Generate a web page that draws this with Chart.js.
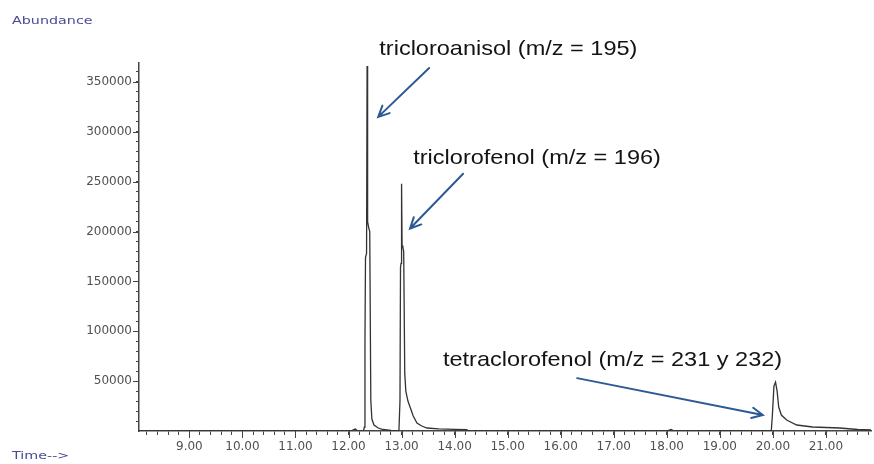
<!DOCTYPE html>
<html>
<head>
<meta charset="utf-8">
<title>Cromatograma</title>
<script src="https://cdn.jsdelivr.net/npm/chart.js@4.4.1/dist/chart.umd.min.js"></script>
<style>
    html, body { margin: 0; padding: 0; background: #fff; }
    #wrap { width: 874px; height: 464px; position: relative; }
</style>
</head>
<body>
<div id="wrap"><canvas id="chromChart"></canvas></div>
<script>
// Retention time (min) and abundance of the trace
const times = [8.05, 12.05, 12.10, 12.13, 12.17, 12.28, 12.30, 12.31, 12.32, 12.34, 12.35, 12.36, 12.38, 12.40,
    12.42, 12.44, 12.48, 12.56, 12.65, 12.80, 12.95, 12.97, 12.98, 12.99, 13.00, 13.01, 13.025, 13.04, 13.06,
    13.08, 13.12, 13.16, 13.22, 13.29, 13.38, 13.48, 13.70, 14.00, 14.23, 14.26, 18.00, 18.08, 18.14, 19.97,
    19.99, 20.02, 20.05, 20.08, 20.11, 20.16, 20.26, 20.45, 20.75, 21.26, 21.60, 21.85];
const abundance = [0, 0, 1500, 2000, 0, 0, 4000, 90000, 174000, 178000, 366000, 210000, 204000, 200000,
    31000, 12000, 6000, 3000, 1500, 500, 0, 30000, 164000, 168000, 248000, 186000, 184000, 180000, 58000,
    40000, 30000, 24000, 15000, 8000, 5000, 3000, 2200, 1700, 1300, 0, 0, 1500, 0, 0,
    15000, 45000, 49000, 40000, 24000, 16000, 11000, 6000, 4000, 3000, 1500, 1000];

// Axis labels
const xTickValues = [9, 10, 11, 12, 13, 14, 15, 16, 17, 18, 19, 20, 21];
const xTickLabels = ['9.00', '10.00', '11.00', '12.00', '13.00', '14.00', '15.00', '16.00', '17.00', '18.00', '19.00', '20.00', '21.00'];
const yTickValues = [50000, 100000, 150000, 200000, 250000, 300000, 350000];
const yTickLabels = ['50000', '100000', '150000', '200000', '250000', '300000', '350000'];

// Peak labels: text anchor and arrow tail/head, in (time, abundance)
const peakNames = ['tricloroanisol (m/z = 195)', 'triclorofenol (m/z = 196)', 'tetraclorofenol (m/z = 231 y 232)'];
const nameAt = [[12.58, 383000], [13.22, 274000], [13.78, 71000]];
const arrowFrom = [[13.52, 364000], [14.16, 258000], [16.31, 53000]];
const arrowTo = [[12.56, 315000], [13.16, 203000], [19.81, 16000]];

// minor ticks every 0.2 min and every 10000 counts
const xMinor = [];
for (let k = 41; k <= 109; k++) xMinor.push(Math.round(k * 2) / 10);
const yMinor = [];
for (let k = 1; k <= 36; k++) yMinor.push(k * 10000);

const labelFor = (values, labels, v) => {
    const i = values.findIndex(t => Math.abs(t - v) < 1e-6);
    return i >= 0 ? labels[i] : '';
};

const axisColor = '#454545';
const tickFont = { family: 'DejaVu Sans', size: 12 };

// longer marks at the labelled ticks, plus the free text and arrows
const decorations = {
    id: 'decorations',
    afterDatasetsDraw(chart) {
        const ctx = chart.ctx;
        const sx = chart.scales.x, sy = chart.scales.y;
        const area = chart.chartArea;

        ctx.save();
        ctx.strokeStyle = axisColor;
        ctx.lineWidth = 1;
        ctx.beginPath();
        xTickValues.forEach(v => {
            const px = Math.round(sx.getPixelForValue(v)) + 0.5;
            ctx.moveTo(px, area.bottom);
            ctx.lineTo(px, area.bottom + 7);
        });
        yTickValues.forEach(v => {
            const py = Math.round(sy.getPixelForValue(v)) + 0.5;
            ctx.moveTo(area.left, py);
            ctx.lineTo(area.left - 6, py);
        });
        ctx.stroke();

        // peak names
        ctx.fillStyle = '#141414';
        ctx.font = '21px "Liberation Sans", Arial, sans-serif';
        ctx.textBaseline = 'middle';
        peakNames.forEach((name, i) => {
            ctx.save();
            ctx.translate(sx.getPixelForValue(nameAt[i][0]), sy.getPixelForValue(nameAt[i][1]));
            ctx.scale(1.12, 1);
            ctx.fillText(name, 0, 0);
            ctx.restore();
        });

        // arrows
        ctx.strokeStyle = '#2c5a93';
        ctx.lineWidth = 2;
        ctx.lineCap = 'round';
        arrowFrom.forEach((from, i) => {
            const x0 = sx.getPixelForValue(from[0]), y0 = sy.getPixelForValue(from[1]);
            const x1 = sx.getPixelForValue(arrowTo[i][0]), y1 = sy.getPixelForValue(arrowTo[i][1]);
            const ang = Math.atan2(y1 - y0, x1 - x0);
            const len = 12, spread = 0.45;
            ctx.beginPath();
            ctx.moveTo(x0, y0);
            ctx.lineTo(x1, y1);
            ctx.moveTo(x1 - len * Math.cos(ang - spread), y1 - len * Math.sin(ang - spread));
            ctx.lineTo(x1, y1);
            ctx.lineTo(x1 - len * Math.cos(ang + spread), y1 - len * Math.sin(ang + spread));
            ctx.stroke();
        });

        // axis captions
        ctx.fillStyle = '#4b4b98';
        ctx.font = '11px "DejaVu Sans", sans-serif';
        [['Abundance', 12, 21], ['Time-->', 12, 456]].forEach(([txt, x, y]) => {
            ctx.save();
            ctx.translate(x, y);
            ctx.scale(1.3, 1);
            ctx.fillText(txt, 0, 0);
            ctx.restore();
        });
        ctx.restore();
    }
};

new Chart(document.getElementById('chromChart'), {
    type: 'line',
    data: {
        datasets: [{
            data: times.map((t, i) => ({ x: t, y: abundance[i] })),
            borderColor: '#333',
            borderWidth: 1.3,
            pointRadius: 0,
            tension: 0,
            fill: false
        }]
    },
    options: {
        responsive: true,
        maintainAspectRatio: false,
        animation: false,
        events: [],
        layout: { padding: { top: 63, right: 3, left: 0, bottom: 0 } },
        plugins: {
            legend: { display: false },
            tooltip: { enabled: false }
        },
        scales: {
            x: {
                type: 'linear',
                min: 8.05,
                max: 21.85,
                afterBuildTicks: s => { s.ticks = xMinor.map(v => ({ value: v })); },
                afterFit: s => { s.height = 33; },
                grid: { drawOnChartArea: false, tickLength: 4, color: axisColor },
                border: { color: axisColor, width: 1.5 },
                ticks: {
                    autoSkip: false,
                    maxRotation: 0,
                    padding: 5,
                    color: '#505050',
                    font: tickFont,
                    callback: v => labelFor(xTickValues, xTickLabels, v)
                }
            },
            y: {
                min: 0,
                max: 369000,
                afterBuildTicks: s => { s.ticks = yMinor.map(v => ({ value: v })); },
                afterFit: s => { s.width = 139; },
                grid: { drawOnChartArea: false, tickLength: 3, color: axisColor },
                border: { color: axisColor, width: 1.5 },
                ticks: {
                    autoSkip: false,
                    padding: 4,
                    color: '#505050',
                    font: tickFont,
                    callback: v => labelFor(yTickValues, yTickLabels, v)
                }
            }
        }
    },
    plugins: [decorations]
});
</script>
</body>
</html>
